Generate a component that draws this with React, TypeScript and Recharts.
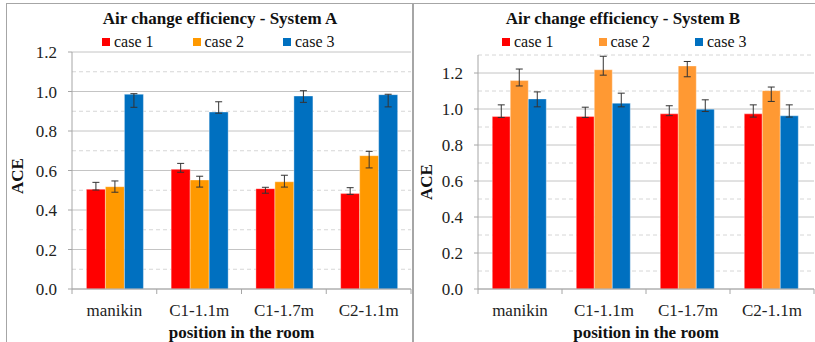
import { BarChart, Bar, XAxis, YAxis, CartesianGrid, ErrorBar, Legend } from "recharts";

const categories = ["manikin", "C1-1.1m", "C1-1.7m", "C2-1.1m"];
const caseNames = ["case 1", "case 2", "case 3"];

// System A (bar value, error [below, above])
const sysACase1 = [0.505, 0.606, 0.508, 0.483];
const sysACase1Err = [[0.004, 0.035], [0.015, 0.03], [0.023, 0.007], [0.004, 0.03]];
const sysACase2 = [0.518, 0.552, 0.543, 0.675];
const sysACase2Err = [[0.028, 0.029], [0.036, 0.019], [0.027, 0.033], [0.062, 0.022]];
const sysACase3 = [0.986, 0.896, 0.977, 0.984];
const sysACase3Err = [[0.066, 0.003], [0.006, 0.052], [0.032, 0.027], [0.062, 0.002]];

// System B
const sysBCase1 = [0.958, 0.958, 0.973, 0.973];
const sysBCase1Err = [[0.005, 0.065], [0.005, 0.052], [0.01, 0.045], [0.018, 0.05]];
const sysBCase2 = [1.158, 1.218, 1.239, 1.102];
const sysBCase2Err = [[0.03, 0.064], [0.03, 0.075], [0.06, 0.025], [0.06, 0.02]];
const sysBCase3 = [1.056, 1.032, 0.999, 0.962];
const sysBCase3Err = [[0.044, 0.039], [0.02, 0.056], [0.013, 0.052], [0.007, 0.061]];

const yTicks = [0, 0.2, 0.4, 0.6, 0.8, 1.0, 1.2];
const yMinorA = [0.1, 0.3, 0.5, 0.7, 0.9, 1.1];
const yMinorB = [0.1, 0.3, 0.5, 0.7, 0.9, 1.1, 1.3];

const FONT = "'Liberation Serif', 'Times New Roman', serif";
const GRID = "#C4C4C4";
const FRAME = "#A6A6A6";

function buildRows(
  c1: number[], e1: number[][],
  c2: number[], e2: number[][],
  c3: number[], e3: number[][]
) {
  return categories.map((name, i) => ({
    name,
    c1: c1[i], e1: e1[i],
    c2: c2[i], e2: e2[i],
    c3: c3[i], e3: e3[i],
  }));
}

const dataA = buildRows(sysACase1, sysACase1Err, sysACase2, sysACase2Err, sysACase3, sysACase3Err);
const dataB = buildRows(sysBCase1, sysBCase1Err, sysBCase2, sysBCase2Err, sysBCase3, sysBCase3Err);

interface PanelProps {
  left: number;
  width: number;
  title: string;
  titleCenter: number;
  data: ReturnType<typeof buildRows>;
  colors: string[];
  yMax: number;
  minor: number[];
  margin: { top: number; right: number; left: number; bottom: number };
  legendLeft: number;
  legendStep: number;
  labelX: number;
  labelY: number;
}

function Panel(p: PanelProps) {
  const height = 342;
  const plotW = p.width - p.margin.left - p.margin.right - 60;
  const half = plotW / categories.length / 2;

  const CatTick = (props: any) => {
    const { x, y, payload, index } = props;
    return (
      <g>
        <line x1={x - half} x2={x - half} y1={y} y2={y + 5} stroke={FRAME} />
        {index === categories.length - 1 && (
          <line x1={x + half} x2={x + half} y1={y} y2={y + 5} stroke={FRAME} />
        )}
        <text x={x} y={y + 27} textAnchor="middle" fontFamily={FONT} fontSize={17} fill="#222">
          {payload.value}
        </text>
      </g>
    );
  };

  const LegendContent = (props: any) => (
    <div style={{ position: "relative", height: 16, fontFamily: FONT, fontSize: 16, color: "#111" }}>
      {(props.payload || []).map((item: any, i: number) => (
        <div key={item.value} style={{ position: "absolute", left: i * p.legendStep, top: 0, height: 16, width: 80 }}>
          <div style={{ position: "absolute", left: 0, top: 4.5, width: 8, height: 8, background: item.color }} />
          <div style={{ position: "absolute", left: 12, top: 0, lineHeight: "16px", whiteSpace: "nowrap" }}>{item.value}</div>
        </div>
      ))}
    </div>
  );

  return (
    <div style={{ position: "absolute", left: p.left, top: 0, width: p.width, height }}>
      <div
        style={{
          position: "absolute", left: p.titleCenter - 200, top: 10, width: 400, textAlign: "center",
          fontFamily: FONT, fontSize: 17, fontWeight: "bold", lineHeight: "17px", color: "#111", zIndex: 2,
        }}
      >
        {p.title}
      </div>
      <BarChart
        width={p.width}
        height={height}
        data={p.data}
        margin={p.margin}
        barCategoryGap="17%"
        barGap={0}
      >
        <CartesianGrid vertical={false} horizontalValues={p.minor} stroke="#D6D6D6" strokeDasharray="4 3" />
        <CartesianGrid vertical={false} horizontalValues={yTicks} stroke={GRID} />
        <XAxis
          dataKey="name"
          height={53}
          tickSize={0}
          tickMargin={0}
          tickLine={false}
          axisLine={{ stroke: FRAME }}
          tick={<CatTick />}
          interval={0}
          label={{
            content: (lp: any) => {
              const vb = lp.viewBox;
              return (
                <text x={vb.x + vb.width / 2} y={vb.y + 49} textAnchor="middle" fontFamily={FONT} fontSize={17} fontWeight="bold" fill="#111">
                  position in the room
                </text>
              );
            },
          }}
        />
        <YAxis
          width={60}
          domain={[0, p.yMax]}
          ticks={yTicks}
          allowDataOverflow
          tickFormatter={(v: number) => v.toFixed(1)}
          tickSize={4}
          tickMargin={11}
          tickLine={{ stroke: FRAME }}
          axisLine={{ stroke: FRAME }}
          tick={{ fontFamily: FONT, fontSize: 17, fill: "#222" }}
          label={{
            content: () => (
              <text
                x={p.labelX}
                y={p.labelY}
                transform={`rotate(-90, ${p.labelX}, ${p.labelY})`}
                textAnchor="middle"
                fontFamily={FONT}
                fontSize={17}
                fontWeight="bold"
                fill="#111"
              >
                ACE
              </text>
            ),
          }}
        />
        <Legend
          layout="horizontal"
          verticalAlign="middle"
          align="center"
          content={<LegendContent />}
          wrapperStyle={{ left: p.legendLeft, top: 33.6, width: 320, height: 16 }}
        />
        {["c1", "c2", "c3"].map((key, i) => (
          <Bar
            key={key}
            dataKey={key}
            name={caseNames[i]}
            fill={p.colors[i]}
            stroke="#ffffff"
            strokeOpacity={0.35}
            strokeWidth={1}
            isAnimationActive={false}
          >
            <ErrorBar dataKey={`e${i + 1}`} width={3.5} stroke="#333" strokeWidth={1} direction="y" />
          </Bar>
        ))}
      </BarChart>
    </div>
  );
}

export default function App() {
  return (
    <div style={{ position: "absolute", left: 0, top: 0, width: 815, height: 342, background: "#fff", overflow: "hidden" }}>
      <Panel
        left={0}
        width={412}
        title="Air change efficiency - System A"
        titleCenter={220}
        data={dataA}
        colors={["#FF0000", "#FF9900", "#0070C0"]}
        yMax={1.2}
        minor={yMinorA}
        margin={{ top: 52, right: 1, left: 12, bottom: 0 }}
        legendLeft={102}
        legendStep={90.5}
        labelX={23}
        labelY={176}
      />
      <Panel
        left={412}
        width={403}
        title="Air change efficiency - System B"
        titleCenter={211}
        data={dataB}
        colors={["#FF0000", "#FF9933", "#0070C0"]}
        yMax={1.3}
        minor={yMinorB}
        margin={{ top: 55, right: 1, left: 6, bottom: 0 }}
        legendLeft={90}
        legendStep={96.5}
        labelX={20}
        labelY={182}
      />
      {/* frame lines */}
      <div style={{ position: "absolute", left: 6, top: 3, width: 809, height: 0, borderTop: `1.5px solid ${FRAME}` }} />
      <div style={{ position: "absolute", left: 6, top: 3, width: 0, height: 339, borderLeft: `1.5px solid ${FRAME}` }} />
      <div style={{ position: "absolute", left: 411.5, top: 3, width: 0, height: 339, borderLeft: `2px solid ${FRAME}` }} />
    </div>
  );
}
